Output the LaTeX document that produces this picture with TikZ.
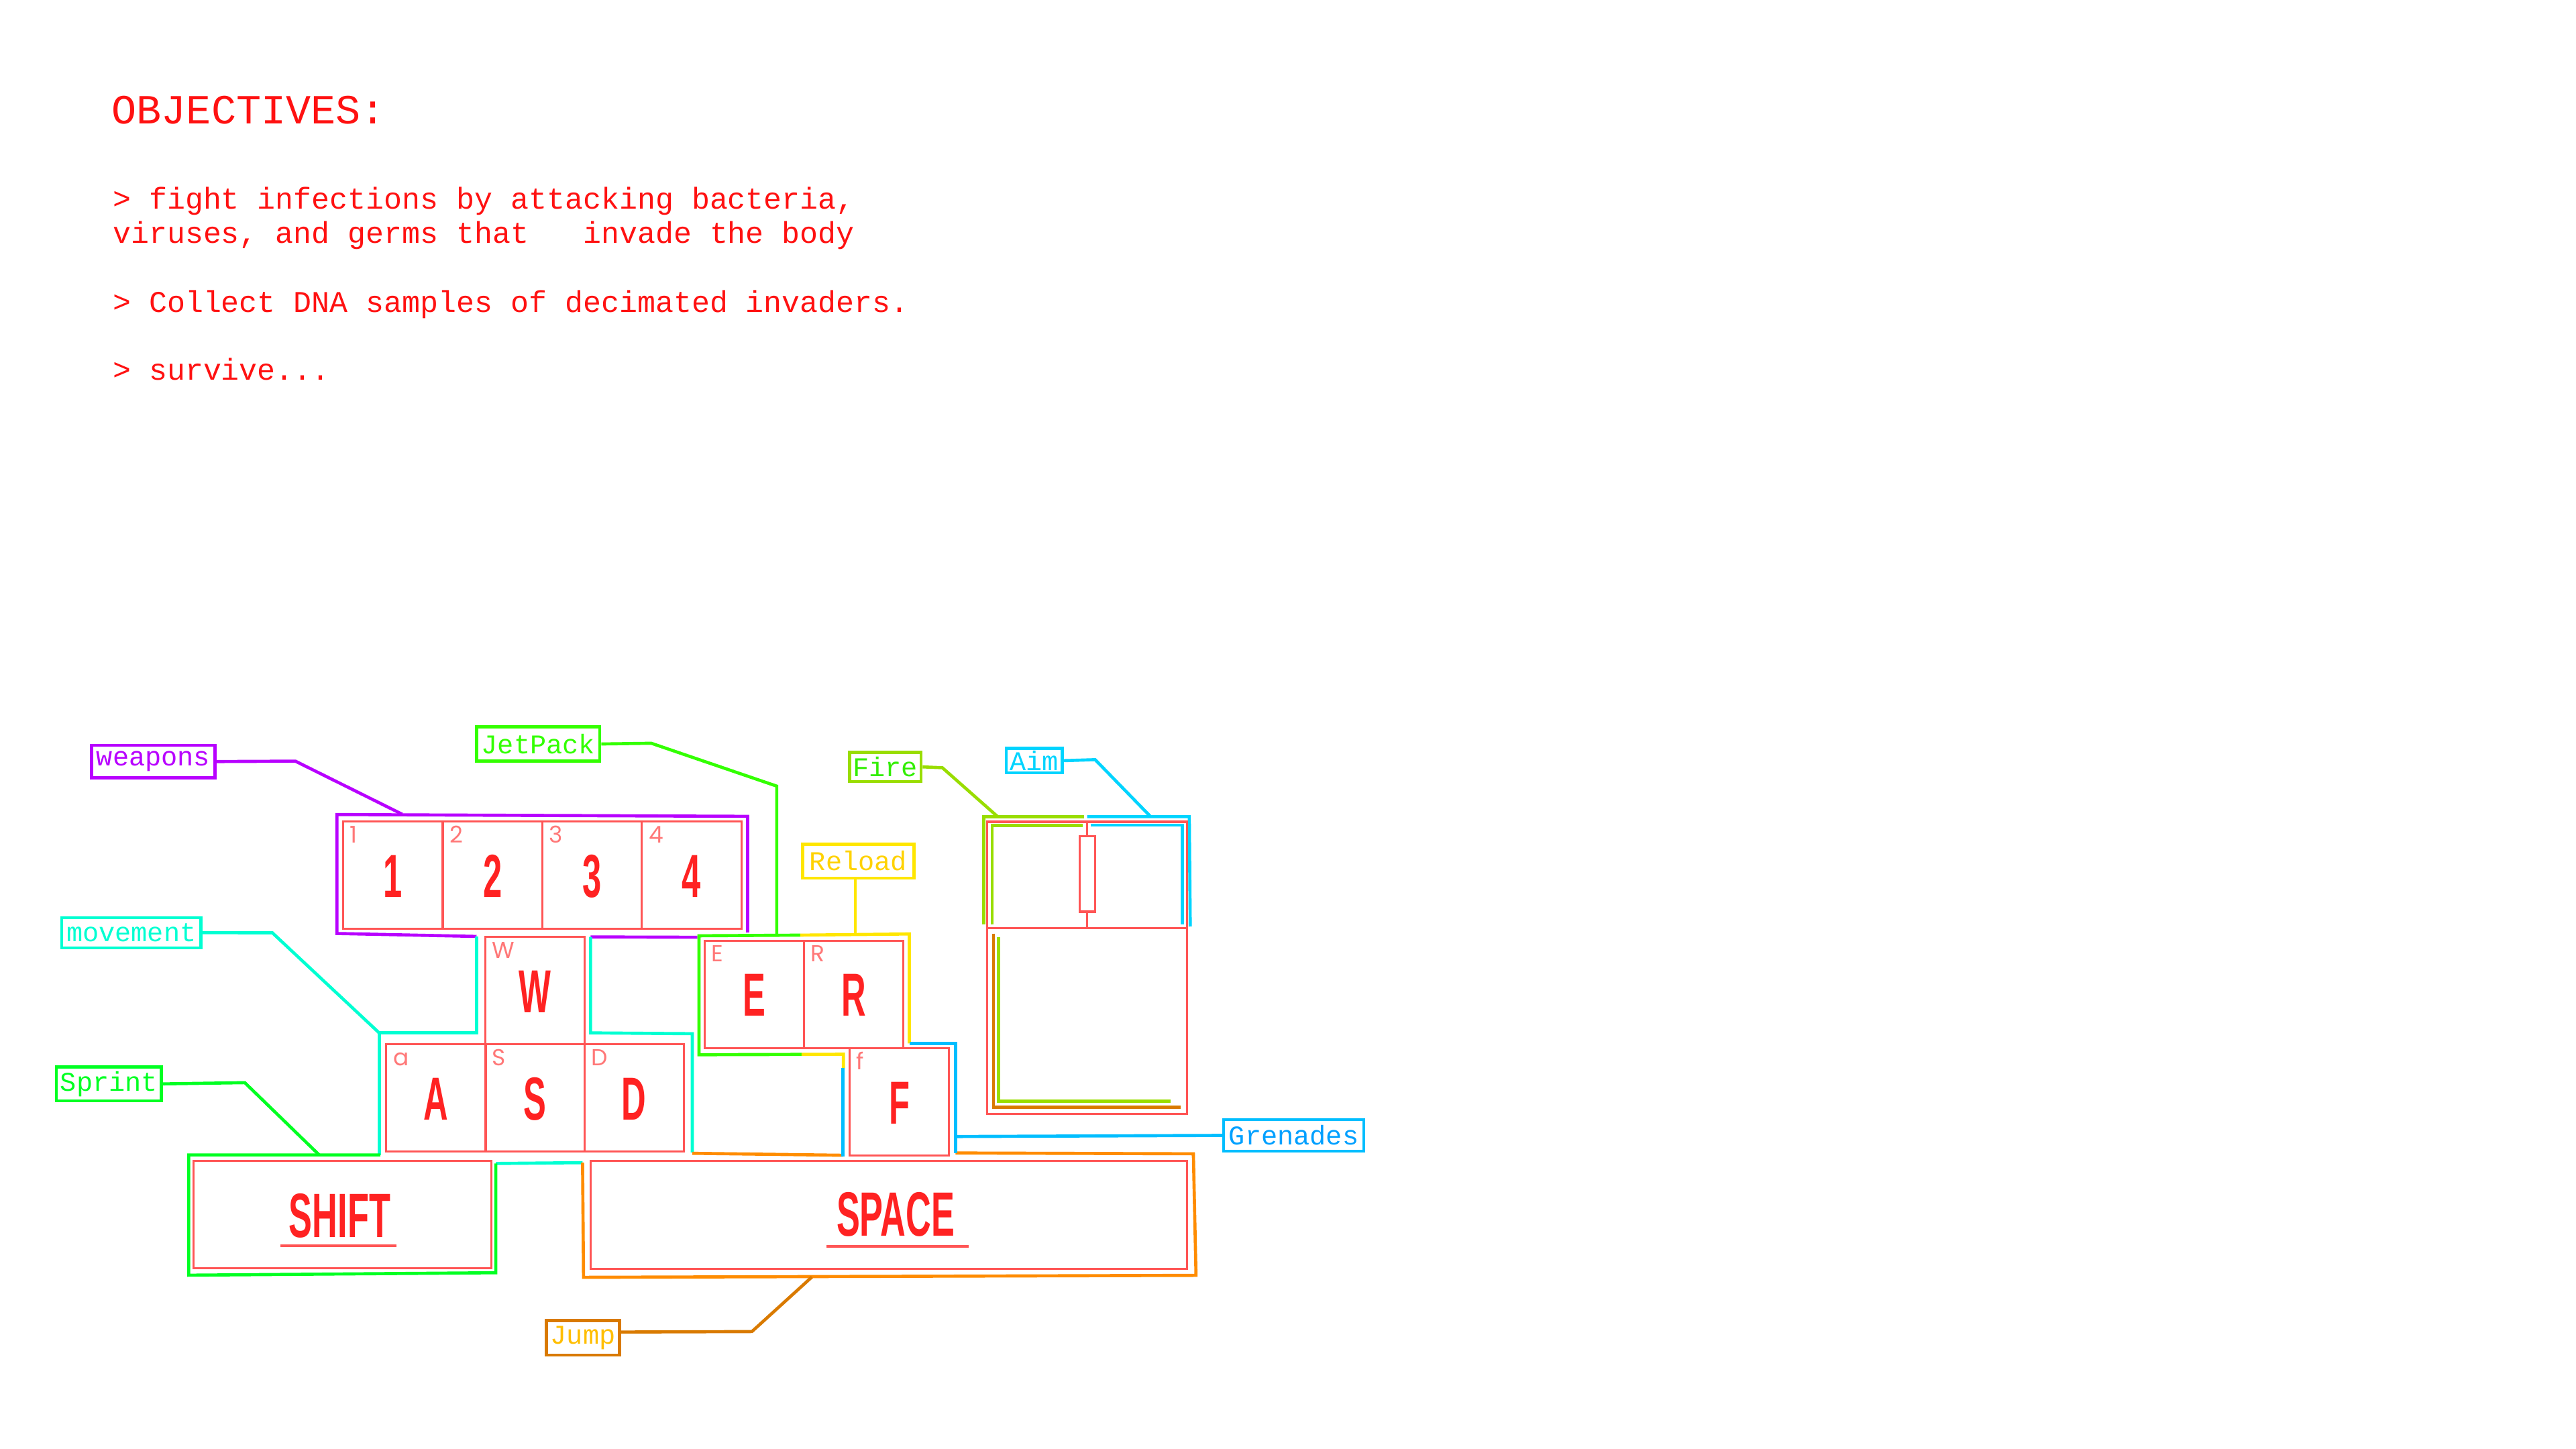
\documentclass[tikz,border=0pt]{standalone}
\usepackage{fontspec}
\setmainfont{Liberation Serif}
\newfontfamily\monof{Liberation Mono}
\newfontfamily\keyf{Liberation Sans}[FakeStretch=0.56]
\newfontfamily\smallf{Poppins}
\definecolor{objred}{RGB}{255,17,17}
\definecolor{keyred}{RGB}{255,85,85}
\definecolor{keybig}{RGB}{255,34,34}
\definecolor{keysmall}{RGB}{255,120,120}
\definecolor{purp}{RGB}{184,0,255}
\definecolor{jetg}{RGB}{51,255,0}
\definecolor{fireg}{RGB}{153,221,0}
\definecolor{firet}{RGB}{51,238,0}
\definecolor{aimc}{RGB}{0,212,255}
\definecolor{reloady}{RGB}{255,230,0}
\definecolor{reloadt}{RGB}{255,210,0}
\definecolor{movec}{RGB}{0,255,210}
\definecolor{sprintg}{RGB}{0,255,34}
\definecolor{grenc}{RGB}{0,190,255}
\definecolor{grent}{RGB}{0,160,255}
\definecolor{jumpo}{RGB}{255,140,0}
\definecolor{jumpb}{RGB}{217,122,0}
\definecolor{jumpt}{RGB}{255,190,0}
\tikzset{
  keyline/.style={draw=keyred, line width=0.9pt},
  keybox/.style={keyline, minimum width={60.5*0.025cm}, minimum height={65.3*0.025cm}, inner sep=0pt,
    font=\keyf\bfseries\fontsize{26.3pt}{26.3pt}\selectfont, text=keybig, text height=18.85pt, text depth=0pt},
  bigword/.style={inner sep=0pt, font=\keyf\bfseries\fontsize{27.1pt}{27.1pt}\selectfont, text=keybig, text height=19.4pt, text depth=0pt},
  smalllab/.style={font=\smallf\fontsize{10pt}{10pt}\selectfont, text=keysmall, inner sep=0pt, anchor=base west},
  ol/.style={line width=1.35pt, line join=miter},
  lab/.style={draw, line width=1.3pt, font=\monof\fontsize{11.7pt}{11.7pt}\selectfont, inner sep=0pt},
  objt/.style={anchor=base west, inner sep=0pt, text=objred, font=\monof\fontsize{13.05pt}{13pt}\selectfont},
}
\begin{document}
\begin{tikzpicture}[x=0.025cm,y=-0.025cm]
\useasboundingbox[fill=white] (0,0) rectangle (1568,882);

% objectives text
\node[objt, font=\monof\fontsize{17.95pt}{18pt}\selectfont] (objtitle) at (67.8,75.3) {OBJECTIVES:};
\node[objt] (obj1) at (68.4,127.2) {> fight infections by attacking bacteria,};
\node[objt] (obj2) at (68.4,148.2) {viruses, and germs that\ \ \ invade the body};
\node[objt] (obj3) at (68.4,189.9) {> Collect DNA samples of decimated invaders.};
\node[objt] (obj4) at (68.4,231.4) {> survive...};

% ---- colored outlines ----
% weapons (purple)
\draw[ol, draw=purp] (455.1,567.6) -- (455.1,496.9) -- (205.1,495.8) -- (205.1,568.2) -- (290.1,570.0);
\draw[ol, draw=purp] (359.5,570.3) -- (424.5,570.5);
% movement (aqua)
\draw[ol, draw=movec] (290.1,570.0) -- (290.1,628.7) -- (230.8,628.7) -- (230.8,703.0);
\draw[ol, draw=movec] (359.5,570.3) -- (359.5,628.7) -- (421.4,629.2) -- (421.4,701.5);
\draw[ol, draw=movec] (301.8,708.2) -- (354.6,707.7);
% sprint (green)
\draw[ol, draw=sprintg] (231.5,703.0) -- (114.9,703.0) -- (114.9,776.2) -- (301.8,774.7) -- (301.8,708.2);
% jump (orange)
\draw[ol, draw=jumpo] (421.4,702.0) -- (513.1,703.2);
\draw[ol, draw=jumpo] (581.6,701.8) -- (726.4,702.3) -- (728.0,776.3) -- (355.2,777.5) -- (354.6,707.7);
% jetpack (green)
\draw[ol, draw=jetg] (487.1,569.2) -- (425.5,569.6) -- (425.5,642.0) -- (487.9,641.8);
% reload (yellow)
\draw[ol, draw=reloady] (487.1,569.2) -- (553.5,568.5) -- (553.5,635.1);
\draw[ol, draw=reloady] (487.9,641.8) -- (513.4,641.7) -- (513.4,650.2);
% grenades (blue)
\draw[ol, draw=grenc] (553.5,635.1) -- (581.6,635.1) -- (581.6,702.0);
\draw[ol, draw=grenc] (513.1,650.2) -- (513.1,704.0);
% fire (yellow green)
\draw[ol, draw=fireg] (598.8,562.7) -- (598.8,497.1) -- (659.8,497.1);
\draw[ol, draw=fireg] (603.9,562.7) -- (603.9,502.5) -- (659.2,502.5);
\draw[ol, draw=fireg] (607.9,570.5) -- (607.9,670.2) -- (712.5,670.2);
% mouse orange L
\draw[ol, draw=jumpb] (604.8,568.2) -- (604.8,673.9) -- (718.5,673.9);
% aim (cyan)
\draw[ol, draw=aimc] (661.8,497.1) -- (723.9,497.1) -- (724.5,564.0);
\draw[ol, draw=aimc] (663.8,502.2) -- (719.6,502.2) -- (719.6,562.7);

% ---- keys ----
\node[keybox] (k1) at (239.2,532.8) {1};
\node[keybox] (k2) at (299.8,532.8) {2};
\node[keybox] (k3) at (360.4,532.8) {3};
\node[keybox] (k4) at (421.0,532.8) {4};
\node[keybox] (kw) at (325.6,603.0) {W};
\node[keybox] (ka) at (265.4,668.3) {A};
\node[keybox] (ks) at (325.6,668.3) {S};
\node[keybox] (kd) at (386.0,668.3) {D};
\node[keybox] (ke) at (459.2,605.2) {E};
\node[keybox] (kr) at (519.7,605.2) {R};
\node[keybox] (kf) at (547.5,670.7) {F};
\node[keyline, minimum width={181.5*0.025cm}, minimum height={65.3*0.025cm}, inner sep=0pt] (kshift) at (208.45,739.25) {};
\node[keyline, minimum width={362.8*0.025cm}, minimum height={65.9*0.025cm}, inner sep=0pt] (kspace) at (541.0,739.55) {};
\node[bigword] (shifttxt) at (206.8,739.7) {SHIFT};
\node[bigword] (spacetxt) at (545.2,738.8) {SPACE};
\draw[keyline, line width=1.1pt] (170.8,758.3) -- (241.4,758.3);
\draw[keyline, line width=1.1pt] (503.0,758.6) -- (589.6,758.6);

\foreach \k/\t in {k1/1,k2/2,k3/3,k4/4,kw/W,ka/a,ks/S,kd/D,ke/E,kr/R,kf/f}{
  \node[smalllab] (\k s) at ([shift={(4.5,13.5)}]\k.north west) {\t};
}

% mouse
\node[keyline, minimum width={121.5*0.025cm}, minimum height={177.9*0.025cm}, inner sep=0pt] (mouse) at (661.75,589.15) {};
\draw[keyline] (mouse.west |- 0,565.1) -- (mouse.east |- 0,565.1);
\draw[keyline] (661.8,500.2) -- (661.8,565.1);
\node[keyline, fill=white, minimum width={9.5*0.025cm}, minimum height={46*0.025cm}, inner sep=0pt] (wheel) at (661.8,531.9) {};

% ---- labels ----
\node[lab, draw=purp, text=purp, minimum width={75*0.025cm}, minimum height={19.7*0.025cm}] (weapons) at (93.3,463.55) {weapons};
\node[lab, draw=jetg, text=jetg, minimum width={75*0.025cm}, minimum height={20.9*0.025cm}] (jetpack) at (327.6,452.85) {JetPack};
\node[lab, draw=movec, text=movec, minimum width={84.7*0.025cm}, minimum height={18.4*0.025cm}] (movement) at (79.95,567.7) {movement};
\node[lab, draw=sprintg, text=sprintg, minimum width={63.8*0.025cm}, minimum height={20.7*0.025cm}] (sprint) at (66.3,659.75) {Sprint};
\node[lab, draw=fireg, text=firet, minimum width={43.6*0.025cm}, minimum height={17.8*0.025cm}] (fire) at (538.9,466.8) {Fire};
\node[lab, draw=aimc, text=aimc, minimum width={34.1*0.025cm}, minimum height={15*0.025cm}] (aim) at (629.55,463.0) {Aim};
\node[lab, draw=reloady, text=reloadt, minimum width={67.9*0.025cm}, minimum height={20.6*0.025cm}] (reload) at (522.45,524.1) {Reload};
\node[lab, draw=grenc, text=grent, minimum width={85.4*0.025cm}, minimum height={19.2*0.025cm}] (grenades) at (787.5,691.1) {Grenades};
\node[lab, draw=jumpb, text=jumpt, minimum width={44.5*0.025cm}, minimum height={21.2*0.025cm}] (jump) at (354.85,814.3) {Jump};

% ---- connectors ----
\coordinate (wpT) at (244.8,495.6);
\coordinate (jpT) at (472.8,569.4);
\coordinate (mvT) at (230.8,628.7);
\coordinate (spT) at (194.3,703.0);
\coordinate (frT) at (607.3,497.1);
\coordinate (amT) at (700.4,497.1);
\coordinate (rlT) at (520.6,568.6);
\coordinate (grT) at (581.6,691.8);
\coordinate (jmT) at (494.2,777.3);
\draw[ol, draw=purp] (weapons.east) -- (179.8,463.3) -- (wpT);
\draw[ol, draw=jetg] (jetpack.east) -- (396.4,452.4) -- (472.8,478.5) -- (jpT);
\draw[ol, draw=movec] (movement.east) -- (165.8,567.8) -- (mvT);
\draw[ol, draw=sprintg] (sprint.east) -- (149.0,659.0) -- (spT);
\draw[ol, draw=fireg] (fire.east) -- (573.6,467.3) -- (frT);
\draw[ol, draw=aimc] (aim.east) -- (666.6,462.4) -- (amT);
\draw[ol, draw=reloady] (rlT |- reload.south) -- (rlT);
\draw[ol, draw=grenc] (grenades.west) -- (grT);
\draw[ol, draw=jumpb] ([shift={(0,-3.5)}]jump.east) -- (457.7,810.5) -- (jmT);
\end{tikzpicture}
\end{document}
